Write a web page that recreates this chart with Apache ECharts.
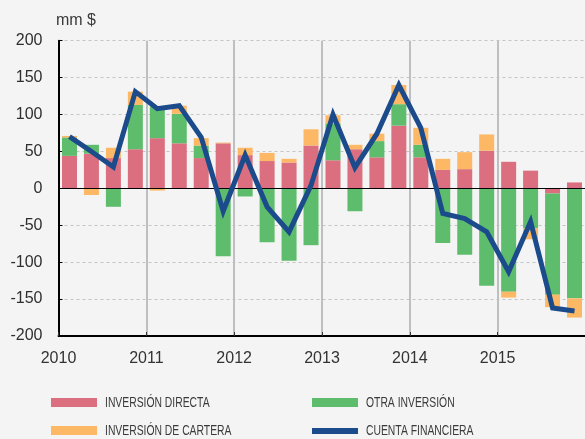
<!DOCTYPE html>
<html>
<head>
<meta charset="utf-8">
<script src="https://cdn.jsdelivr.net/npm/echarts@6/dist/echarts.min.js"></script>
<style>
html,body{margin:0;padding:0;background:#f4f4f4;}
#c{width:585px;height:439px;}
</style>
</head>
<body>
<div id="c"></div>
<script>
const quarters = ['2010T1','2010T2','2010T3','2010T4','2011T1','2011T2','2011T3','2011T4',
  '2012T1','2012T2','2012T3','2012T4','2013T1','2013T2','2013T3','2013T4',
  '2014T1','2014T2','2014T3','2014T4','2015T1','2015T2','2015T3','2015T4'];
const inversionDirecta = [44, 47, 41, 53, 68, 61, 41, 61, 45, 37, 35, 58, 38, 53, 42, 85, 42, 25, 26, 51, 36, 24, -7, 8];
const otraInversion = [25, 12, -25, 60, 43, 40, 17, -92, -11, -73, -98, -77, 50, -31, 22, 29, 17, -74, -90, -132, -140, -54, -137, -149];
const inversionCartera = [2, -9, 14, 18, -3, 11, 10, 1, 10, 11, 5, 22, 11, 6, 10, 26, 23, 15, 23, 22, -8, -15, -17, -26];
const cuentaFinanciera = [70, 50, 29, 131, 108, 112, 69, -31, 45, -25, -59, 4, 100, 28, 74, 140, 82, -34, -41, -59, -113, -45, -162, -166];
const yearMin = 2010, yearMax = 2016;
const yMin = -200, yMax = 200, yStep = 50;
const seriesNames = ['INVERSIÓN DIRECTA', 'OTRA INVERSIÓN', 'INVERSIÓN DE CARTERA', 'CUENTA FINANCIERA'];

const labelFont = "'Liberation Sans', Arial, Helvetica, sans-serif";
const colors = {d:'#db6f7f', o:'#5ebd6c', c:'#fdb865', f:'#1b4b8b'};

function leg(name, left, top, h) {
  return {
    data:[name], left:left, top:top, orient:'horizontal', icon:'rect',
    itemWidth:46, itemHeight:h, itemGap:0, padding:0, selectedMode:false,
    formatter:()=>'',
    textStyle:{fontSize:1}
  };
}
function legText(name, x, y) {
  return {type:'text', x:x, y:y, scaleX:0.74, originX:0, originY:0, z:10,
    style:{text:name, font:"14px " + labelFont, fill:'#3a3a3a', textVerticalAlign:'middle', textAlign:'left'}};
}

const chart = echarts.init(document.getElementById('c'), null, {renderer:'canvas'});
chart.setOption({
  backgroundColor:'#f4f4f4',
  animation:false,
  grid:{left:58.5, top:40.7, width:527, height:295.3, containLabel:false, outerBoundsMode:'none'},
  graphic:[
    {type:'text', left:56, top:13, style:{text:'mm $', font:"16px " + labelFont, fill:'#3a3a3a'}},
    legText(seriesNames[0], 105, 403),
    legText(seriesNames[1], 366, 403),
    legText(seriesNames[2], 105, 431),
    legText(seriesNames[3], 366, 431)
  ],
  xAxis:[
    {type:'category', data:quarters, boundaryGap:true, position:'bottom', z:3,
     axisLine:{show:true, onZero:true, lineStyle:{color:'#000', width:1}},
     axisTick:{show:false}, axisLabel:{show:false}, splitLine:{show:false}},
    {type:'value', min:yearMin, max:yearMax, interval:1, position:'bottom',
     axisLine:{show:true, onZero:false, lineStyle:{color:'#000', width:2}},
     axisTick:{show:true, inside:true, length:4, lineStyle:{color:'#333', width:1}},
     axisLabel:{show:true, margin:15, fontSize:16, fontFamily:labelFont, color:'#333', showMaxLabel:false,
       formatter:v=>(v >= yearMax ? '' : String(v))},
     splitLine:{show:true, lineStyle:{color:'#bdbfc1', width:2}}}
  ],
  yAxis:{type:'value', min:yMin, max:yMax, interval:yStep,
    axisLine:{show:true, lineStyle:{color:'#000', width:2}},
    axisTick:{show:true, inside:true, length:4, lineStyle:{color:'#000'}},
    axisLabel:{margin:16, fontSize:16, fontFamily:labelFont, color:'#2e2e2e'},
    splitLine:{show:true, lineStyle:{color:'#c4c4c4', width:1, type:[3,3]}}},
  legend:[
    leg(seriesNames[0], 51, 398, 9),
    leg(seriesNames[1], 312, 398, 9),
    leg(seriesNames[2], 51, 426, 9),
    leg(seriesNames[3], 312, 428, 6)
  ],
  series:[
    {name:seriesNames[0], type:'bar', stack:'a', xAxisIndex:0, data:inversionDirecta, barWidth:15, itemStyle:{color:colors.d}},
    {name:seriesNames[1], type:'bar', stack:'a', xAxisIndex:0, data:otraInversion, barWidth:15, itemStyle:{color:colors.o}},
    {name:seriesNames[2], type:'bar', stack:'a', xAxisIndex:0, data:inversionCartera, barWidth:15, itemStyle:{color:colors.c}},
    {name:seriesNames[3], type:'line', xAxisIndex:0, data:cuentaFinanciera, symbol:'none', z:5,
     itemStyle:{color:colors.f}, lineStyle:{color:colors.f, width:5, join:'miter', miterLimit:10}}
  ]
});
</script>
</body>
</html>
